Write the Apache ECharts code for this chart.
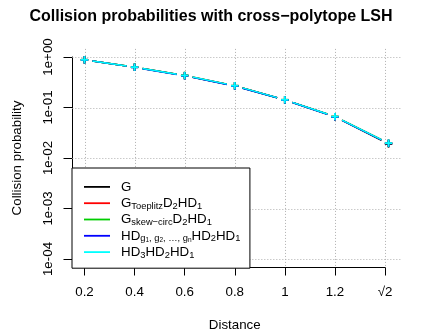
<!DOCTYPE html>
<html>
<head>
<meta charset="utf-8">
<script src="https://cdn.jsdelivr.net/npm/echarts@6/dist/echarts.min.js"></script>
<style>html,body{margin:0;padding:0;background:#fff;}#c{width:422px;height:330px;}</style>
</head>
<body>
<div id="c"></div>
<script>
// ---- data ----
const distances = [0.2, 0.4, 0.6, 0.8, 1.0, 1.2, Math.SQRT2];
const probG        = [0.879, 0.628, 0.428, 0.268, 0.141, 0.0655, 0.0190];
const probToeplitz = [0.880, 0.630, 0.430, 0.270, 0.142, 0.0660, 0.0196];
const probSkewCirc = [0.880, 0.630, 0.430, 0.269, 0.142, 0.0660, 0.0196];
const probHDg      = [0.878, 0.625, 0.425, 0.266, 0.141, 0.0652, 0.0195];
const probHD3      = [0.880, 0.630, 0.430, 0.270, 0.142, 0.0660, 0.0197];
const seriesNames  = ['G', 'GToeplitz', 'GSkew', 'HDg', 'HD3'];
const seriesColors = ['#000000', '#FF0000', '#00CD00', '#0000FF', '#00FFFF'];
const xTickValues = [0.2, 0.4, 0.6, 0.8, 1.0, 1.2, 1.4];
const xTickLabels = ['0.2', '0.4', '0.6', '0.8', '1', '1.2', '√2'];
const yTickValues = [1e-4, 1e-3, 1e-2, 1e-1, 1];
const yTickLabels = ['1e-04', '1e-03', '1e-02', '1e-01', '1e+00'];
const legendLabels = {
  'G': '{m|G}',
  'GToeplitz': '{m|G}{s|Toeplitz}{m|D}{s|2}{m|HD}{s|1}',
  'GSkew': '{m|G}{s|skew−circ}{m|D}{s|2}{m|HD}{s|1}',
  'HDg': '{m|HD}{s|g}{ss|1}{s|, g}{ss|2}{s|, …, g}{ss|n}{m|HD}{s|2}{m|HD}{s|1}',
  'HD3': '{m|HD}{s|3}{m|HD}{s|2}{m|HD}{s|1}'
};
const allProbs = [probG, probToeplitz, probSkewCirc, probHDg, probHD3];

const FONT = 'Liberation Sans, Arial, Helvetica, sans-serif';
const FS = 13.33;

// plot region (R style 4% extension)
const xr = [Math.min(...distances), Math.max(...distances)];
const xPad = 0.04 * (xr[1] - xr[0]);
const regionX = [xr[0] - xPad, xr[1] + xPad];
const ylog = [Math.log10(yTickValues[0]), Math.log10(yTickValues[yTickValues.length - 1])];
const yPad = 0.04 * (ylog[1] - ylog[0]);
const regionY = [Math.pow(10, ylog[0] - yPad), Math.pow(10, ylog[1] + yPad)];

const chart = echarts.init(document.getElementById('c'), null, {renderer: 'canvas'});

const gridStyle = {stroke: '#b0b0b0', lineWidth: 1, lineDash: [1, 2]};

const series = [];
series.push({
  type: 'custom', name: '_vgrid', silent: true, z: 1,
  data: xTickValues.map(v => [v, 0.1]),
  encode: {x: 0, y: 1},
  renderItem: function (params, api) {
    const a = api.coord([api.value(0), regionY[1]]);
    const b = api.coord([api.value(0), regionY[0]]);
    return {type: 'line', shape: {x1: Math.round(a[0]) + 0.5, y1: a[1], x2: Math.round(b[0]) + 0.5, y2: b[1]}, style: gridStyle};
  }
});
series.push({
  type: 'custom', name: '_hgrid', silent: true, z: 1,
  data: yTickValues.map(v => [1, v]),
  encode: {x: 0, y: 1},
  renderItem: function (params, api) {
    const a = api.coord([regionX[0], api.value(1)]);
    const b = api.coord([regionX[1], api.value(1)]);
    return {type: 'line', shape: {x1: a[0], y1: Math.round(a[1]) + 0.5, x2: b[0], y2: Math.round(b[1]) + 0.5}, style: gridStyle};
  }
});

seriesNames.forEach(function (name, si) {
  const ys = allProbs[si];
  const col = seriesColors[si];
  series.push({
    type: 'custom', name: name, z: 2 + si,
    itemStyle: {color: col},
    data: distances.map((d, i) => [d, ys[i]]),
    encode: {x: 0, y: 1},
    renderItem: function (params, api) {
      const i = params.dataIndex;
      const p = api.coord([api.value(0), api.value(1)]);
      const h = 3.7;
      const children = [
        {type: 'line', shape: {x1: p[0] - h, y1: p[1], x2: p[0] + h, y2: p[1]}, style: {stroke: col, lineWidth: 1.8}},
        {type: 'line', shape: {x1: p[0], y1: p[1] - h, x2: p[0], y2: p[1] + h}, style: {stroke: col, lineWidth: 1.8}}
      ];
      if (i < distances.length - 1) {
        const q = api.coord([distances[i + 1], ys[i + 1]]);
        const dx = q[0] - p[0], dy = q[1] - p[1];
        const len = Math.sqrt(dx * dx + dy * dy);
        const g = 8;
        if (len > 2 * g) {
          const ux = dx / len, uy = dy / len;
          children.push({type: 'line', shape: {x1: p[0] + ux * g, y1: p[1] + uy * g, x2: q[0] - ux * g, y2: q[1] - uy * g}, style: {stroke: col, lineWidth: 1.5}});
        }
      }
      return {type: 'group', children: children};
    }
  });
});

const option = {
  animation: false,
  backgroundColor: '#ffffff',
  textStyle: {fontFamily: FONT},
  title: {
    text: 'Collision probabilities with cross−polytope LSH',
    left: 'center', top: 6,
    padding: [3, 0, 3, 50],
    textStyle: {fontFamily: FONT, fontSize: 16, fontWeight: 'bold', color: '#000'}
  },
  grid: {left: 84.5, right: 37, top: 57, bottom: 71, containLabel: false, outerBoundsMode: 'none'},
  xAxis: {
    type: 'value', min: 0.2, max: 1.4, interval: 0.2,
    offset: 8.5,
    name: 'Distance', nameLocation: 'middle', nameGap: 51,
    nameTextStyle: {fontFamily: FONT, fontSize: FS, color: '#000'},
    axisLine: {show: true, lineStyle: {color: '#000', width: 1}},
    axisTick: {show: true, length: 8, lineStyle: {color: '#000'}},
    axisLabel: {
      margin: 18, fontFamily: FONT, fontSize: FS, color: '#000',
      formatter: function (v) {
        let best = 0;
        xTickValues.forEach((t, k) => { if (Math.abs(t - v) < Math.abs(xTickValues[best] - v)) best = k; });
        return xTickLabels[best];
      }
    },
    splitLine: {show: false}
  },
  yAxis: {
    type: 'log', logBase: 10, min: yTickValues[0], max: yTickValues[yTickValues.length - 1],
    offset: 12.5,
    name: 'Collision probability', nameLocation: 'middle', nameGap: 48,
    nameTextStyle: {fontFamily: FONT, fontSize: FS, color: '#000'},
    axisLine: {show: true, lineStyle: {color: '#000', width: 1}},
    axisTick: {show: true, length: 8.5, lineStyle: {color: '#000'}},
    axisLabel: {
      rotate: 90, margin: 17, fontFamily: FONT, fontSize: FS, color: '#000',
      formatter: function (v) {
        const e = Math.round(Math.log10(v));
        const k = yTickValues.findIndex(t => Math.round(Math.log10(t)) === e);
        return k >= 0 ? yTickLabels[k] : '';
      }
    },
    splitLine: {show: false}, minorTick: {show: false}
  },
  legend: {
    left: 72, top: 168,
    orient: 'vertical',
    selectedMode: false,
    padding: [11.5, 9.5, 8.5, 12],
    itemGap: 1.3,
    itemWidth: 26, itemHeight: 15,
    borderColor: '#000', borderWidth: 1, borderRadius: 0,
    backgroundColor: '#fff',
    data: seriesNames.map((n, i) => ({name: n, icon: 'path://M0,0 M26,15 M0,6.5 L26,6.5 L26,8.3 L0,8.3 Z', itemStyle: {color: seriesColors[i]}})),
    formatter: function (name) { return legendLabels[name]; },
    textStyle: {
      fontFamily: FONT, color: '#000', padding: [0, 0, 0, 6],
      rich: {
        m: {fontFamily: FONT, fontSize: FS, lineHeight: 15, color: '#000'},
        s: {fontFamily: FONT, fontSize: 9.33, lineHeight: 9, verticalAlign: 'bottom', color: '#000'},
        ss: {fontFamily: FONT, fontSize: 6.5, lineHeight: 7, verticalAlign: 'bottom', color: '#000'}
      }
    }
  },
  series: series
};
chart.setOption(option);
</script>
</body>
</html>
